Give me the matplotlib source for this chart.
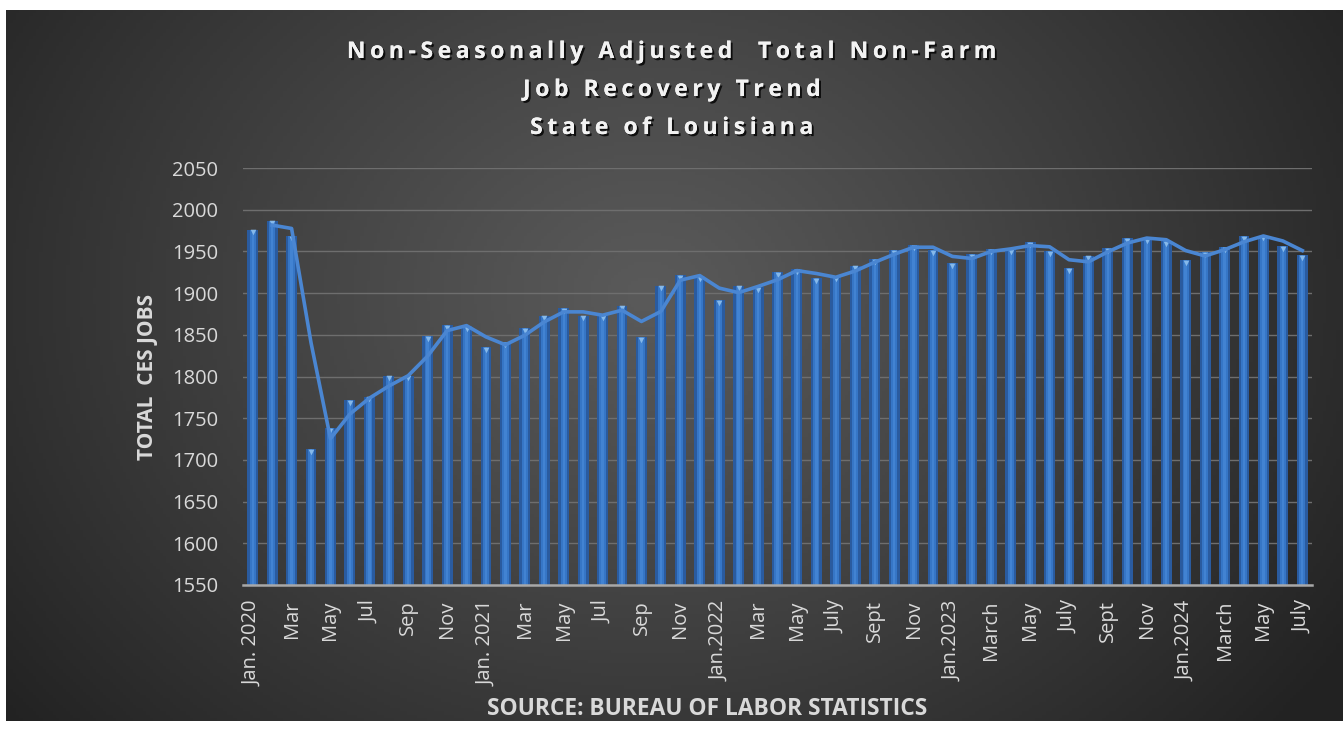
import numpy as np
import matplotlib.pyplot as plt
from matplotlib import patheffects
from matplotlib.transforms import offset_copy

# Louisiana total non-farm jobs (thousands), Jan 2020 - Jul 2024
jobs = [1976, 1987, 1968, 1713, 1738, 1772, 1776, 1801, 1801, 1848, 1862, 1860,
        1835, 1841, 1858, 1873, 1882, 1873, 1874, 1885, 1847, 1909, 1922, 1920,
        1892, 1909, 1907, 1925, 1929, 1918, 1920, 1933, 1941, 1952, 1958, 1952,
        1936, 1947, 1953, 1953, 1961, 1950, 1930, 1945, 1954, 1966, 1966, 1962,
        1940, 1949, 1955, 1968, 1969, 1956, 1946]

tick_labels = ['Jan. 2020', 'Mar', 'May', 'Jul', 'Sep', 'Nov',
               'Jan. 2021', 'Mar', 'May', 'Jul', 'Sep', 'Nov',
               'Jan.2022', 'Mar', 'May', 'July', 'Sept', 'Nov',
               'Jan.2023', 'March', 'May', 'July', 'Sept', 'Nov',
               'Jan.2024', 'March', 'May', 'July']

title_lines = ['Non-Seasonally Adjusted  Total Non-Farm',
               'Job Recovery Trend',
               'State of Louisiana']

jobs = np.array(jobs, dtype=float)
x = np.arange(len(jobs))
# 2-period moving average trendline
trend = (jobs[1:] + jobs[:-1]) / 2

W, H = 1343, 729
fig = plt.figure(figsize=(W / 100, H / 100), dpi=100)
fig.patch.set_facecolor('white')

# dark radial-gradient panel
bg = fig.add_axes([6 / W, 8 / H, 1 - 6 / W, 1 - 18 / H])
gx, gy = np.meshgrid(np.linspace(0, 1, 400), np.linspace(0, 1, 220))
r = np.sqrt(((gx - 0.48) / 0.62) ** 2 + ((gy - 0.40) / 0.95) ** 2)
r = np.clip(r, 0, 1) ** 1.1
c0, c1 = np.array([0x5a, 0x5a, 0x5a]) / 255, np.array([0x22, 0x22, 0x22]) / 255
img = c0[None, None, :] * (1 - r[..., None]) + c1[None, None, :] * r[..., None]
bg.imshow(img, aspect='auto', extent=[0, 1, 0, 1], origin='upper')
bg.set_axis_off()

ax = fig.add_axes([243 / W, 1 - 585 / H, (1312 - 243) / W, (585 - 168) / H])
ax.patch.set_alpha(0)

ax.bar(x, jobs - 1550, bottom=1550, width=0.56, color='#2a5b9f', zorder=2)
ax.bar(x, jobs - 1550, bottom=1550, width=0.32, color='#3676c6', zorder=2)
ax.bar(x, jobs - 1550, bottom=1550, width=0.12, color='#4283d2', zorder=2)
ax.scatter(x, jobs, marker='v', s=16, color='#86b9ea', linewidths=0, zorder=3,
           transform=offset_copy(ax.transData, fig=fig, y=-2.0, units='points'))
ax.plot(x[1:], trend, color='#4a86d2', lw=2.6, zorder=4, solid_joinstyle='round')

ax.set_xlim(-0.5, len(jobs) - 0.5)
ax.set_ylim(1550, 2050)
ax.set_yticks(np.arange(1550, 2051, 50))
ax.set_xticks(x[::2])
ax.set_xticklabels(tick_labels, rotation=90)
ax.yaxis.grid(True, color='#6e6e6e', lw=1.0, zorder=0)
ax.set_axisbelow(True)
for s in ['top', 'right', 'left']:
    ax.spines[s].set_visible(False)
ax.spines['bottom'].set_color('#a8a8a8')
ax.spines['bottom'].set_linewidth(1.8)
ax.spines['bottom'].set_zorder(5)
ax.tick_params(axis='both', length=0, colors='#d9d9d9', labelsize=14.5)
ax.tick_params(axis='x', pad=11)
ax.tick_params(axis='y', pad=18)
for lab in ax.get_xticklabels() + ax.get_yticklabels():
    lab.set_family('Open Sans')
    lab.set_color('#d9d9d9')

shadow = [patheffects.withSimplePatchShadow(offset=(1.5, -1.5), shadow_rgbFace='black', alpha=0.8),
          patheffects.Normal()]
for i, line in enumerate(title_lines):
    spaced = '\u2009'.join(line)
    fig.text(672 / W, 1 - (52 + 38 * i) / H, spaced, ha='center', va='center',
             fontsize=16.5, fontweight='bold', color='#f2f2f2',
             family=['Open Sans', 'DejaVu Sans'], path_effects=shadow)

fig.text(148 / W, 1 - 377 / H, 'TOTAL  CES JOBS', rotation=90, ha='center', va='center',
         fontsize=15, fontweight='bold', color='#d9d9d9', family='Open Sans')
fig.text(707 / W, 1 - 709 / H, 'SOURCE: BUREAU OF LABOR STATISTICS', ha='center', va='center',
         fontsize=16.4, fontweight='bold', color='#d9d9d9', family='Open Sans')

fig.savefig('out.png', dpi=100)
